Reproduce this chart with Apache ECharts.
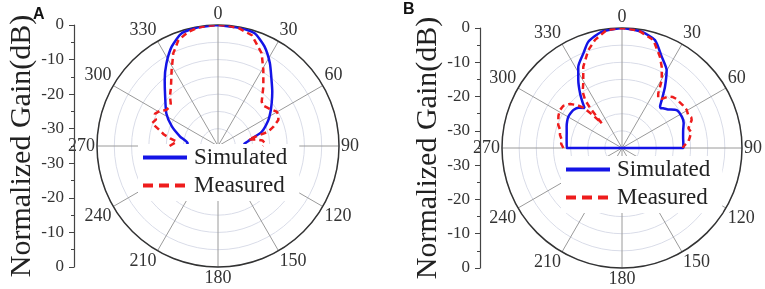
<!DOCTYPE html>
<html>
<head>
<meta charset="utf-8">
<script src="https://cdn.jsdelivr.net/npm/echarts@6/dist/echarts.min.js"></script>
<style>
  html, body { margin: 0; padding: 0; background: #fff; }
  #main { width: 765px; height: 289px; }
</style>
</head>
<body>
<div id="main"></div>
<script>
// panel A, simulated (angle in deg, gain in dB)
var simAngleA = [0, 10, 18, 25, 32, 39, 45, 51, 57, 63, 72, 77, 81, 85, 90,
  95, 130, 180, 230, 265,
  270, 275, 284, 293, 302, 313, 321, 328, 335, 342, 350, 360];
var simGainA = [0, -0.3, -0.7, -3.2, -6.7, -10.4, -12.8, -15.0, -16.9, -18.7, -21.7, -24.6, -26.2, -27.3, -27.6,
  -35, -35, -35, -35, -35,
  -25.5, -26.2, -23.7, -20.5, -17.4, -14.1, -10.5, -6.85, -3.3, -0.75, -0.2, 0];

// panel A, measured
var measAngleA = [270, 272, 276, 279, 282, 286, 289, 293, 297, 301, 305, 309, 312, 316, 321.6, 328.6, 334.3, 339.5, 345, 350, 355,
  360, 365, 370, 377, 385.2, 390.8, 397.4, 404.6, 408, 413.1, 419.7, 423, 426.7, 430.8, 434.1, 436, 438, 440, 443, 447, 450];
var measGainA = [-21, -20.5, -23, -21, -19, -17, -14.8, -15.5, -14.5, -15.3, -16.8, -17, -16.6, -15, -13.1, -9.25, -5.2, -2.3, -1, -0.3, -0.1,
  0, -0.1, -0.4, -1.5, -5.35, -9.4, -13.4, -17, -17.5, -16.8, -15.3, -15.4, -16, -18, -19.9, -24, -26, -24, -22, -21.4, -22];

// panel B, simulated
var simAngleB = [0, 9.6, 17, 23.5, 29.8, 35.1, 39.6, 42.6, 44, 46.1, 50, 55.2, 62.3, 68, 73.6, 80, 85, 90,
  95, 130, 180, 230, 265,
  270, 275, 280, 285, 291.1, 296, 300.2, 304, 308, 313, 317, 319, 322.5, 327.3, 331.7, 337.8, 342.4, 350, 360];
var simGainB = [0, -0.6, -2.1, -5.95, -8.8, -13.2, -16.8, -18.6, -18.8, -18.3, -17.5, -15.6, -15.3, -15.6, -16.4, -16.9, -17.05, -17.1,
  -35, -35, -35, -35, -35,
  -18.9, -18.8, -18.6, -18.3, -17.7, -17.2, -16.9, -16.9, -17.0, -17.8, -19, -17.5, -14.9, -11.4, -8.1, -5.2, -2.5, -0.6, 0];

// panel B, measured
var measAngleB = [270, 274, 277.6, 282, 286.2, 290, 293.7, 297, 301.5, 305.6, 310.2, 313.5, 316, 318.5, 320.5, 321.5, 322.5, 325,
  329.1, 334.5, 341, 346, 352.6,
  360, 368, 376.2, 382.6, 386, 390.3, 393.6, 396.1, 399, 402, 405, 408.1, 412, 415, 419.6, 423, 426, 428.1, 431, 433.5, 437, 440.6, 444, 448.8, 450];
var measGainB = [-17.9, -17.2, -17.3, -16.5, -16.2, -15.2, -14.7, -14.2, -13.8, -13.9, -15.1, -16.8, -18.5, -22, -25.7, -20, -17.3, -15,
  -13.0, -8.75, -4.8, -2.5, -0.3,
  0, -0.4, -2.2, -6.2, -8.6, -12.0, -15.9, -17.1, -16.5, -14.8, -14, -13.6, -13.5, -13.3, -13.1, -13.4, -12.9, -13.1, -14, -14.8, -14.3, -14.9, -15.5, -17.1, -17.2];

var legendNames = ['Simulated', 'Measured'];
var angleTicks = [0, 30, 60, 90, 120, 150, 180, 210, 240, 270, 300, 330];

var serif = 'Liberation Serif';
var blue = '#1414e6';
var red = '#ee1c1c';

function pairs(gain, angle) {
  var out = [];
  for (var i = 0; i < gain.length; i++) {
    out.push([gain[i], angle[i] % 360]);
  }
  return out;
}

function angleAxis(idx) {
  return {
    polarIndex: idx,
    type: 'value',
    min: 0,
    max: 360,
    interval: 30,
    startAngle: 90,
    clockwise: true,
    axisLine: { show: true, lineStyle: { color: '#333', width: 1.5 } },
    axisTick: { show: false },
    axisLabel: {
      margin: 2,
      color: '#333',
      fontFamily: serif,
      fontSize: 18,
      formatter: function (v) { return angleTicks.indexOf(v) >= 0 ? String(v) : ''; }
    },
    splitLine: { show: true, lineStyle: { color: '#9a9a9a', width: 1 } }
  };
}

function radiusAxis(idx) {
  return {
    polarIndex: idx,
    type: 'value',
    min: -35,
    max: 0,
    interval: 5,
    axisLine: { show: false },
    axisTick: { show: false },
    axisLabel: { show: false },
    splitLine: { show: true, lineStyle: { color: '#d9dce8', width: 1 } }
  };
}

function gainAxis(idx) {
  return {
    gridIndex: idx,
    type: 'value',
    min: -35,
    max: 35,
    interval: 10,
    name: 'Normalized Gain(dB)',
    nameLocation: 'middle',
    nameRotate: 90,
    nameGap: 37,
    nameTextStyle: { fontFamily: serif, fontSize: 30, color: '#222' },
    axisLine: { show: true, lineStyle: { color: '#444', width: 1.2 } },
    axisTick: { show: true, length: 5, lineStyle: { color: '#444' } },
    minorTick: { show: true, splitNumber: 2, length: 3, lineStyle: { color: '#444' } },
    splitLine: { show: false },
    axisLabel: {
      margin: 10,
      color: '#333',
      fontFamily: serif,
      fontSize: 17,
      formatter: function (v) { return String(Math.abs(v) - 35); }
    }
  };
}

function legend(left, top) {
  return {
    data: [
      { name: legendNames[0] },
      { name: legendNames[1], lineStyle: { type: [10, 6] } }
    ],
    orient: 'vertical',
    left: left,
    top: top,
    itemWidth: 44,
    itemHeight: 14,
    itemGap: 5,
    padding: [2, 12, 4, 3],
    backgroundColor: '#fff',
    selectedMode: false,
    itemStyle: { opacity: 0 },
    lineStyle: { width: 4 },
    textStyle: { fontFamily: serif, fontSize: 23, color: '#222', padding: [0, 0, 0, 2] }
  };
}

var chart = echarts.init(document.getElementById('main'), null, { renderer: 'canvas' });

chart.setOption({
  animation: false,
  title: [
    { text: 'A', left: 33, top: 7, padding: 0, textStyle: { fontFamily: 'Liberation Sans', fontWeight: 'bold', fontSize: 16, color: '#111' } },
    { text: 'B', left: 403, top: 2, padding: 0, textStyle: { fontFamily: 'Liberation Sans', fontWeight: 'bold', fontSize: 16, color: '#111' } }
  ],
  polar: [
    { center: [218, 146], radius: 121 },
    { center: [622, 148], radius: 120 }
  ],
  angleAxis: [angleAxis(0), angleAxis(1)],
  radiusAxis: [radiusAxis(0), radiusAxis(1)],
  // plain vertical gain axes to the left of each plot
  grid: [
    { left: 74, top: 25, width: 1, height: 242 },
    { left: 480, top: 28, width: 1, height: 240 }
  ],
  xAxis: [
    { gridIndex: 0, type: 'value', show: false },
    { gridIndex: 1, type: 'value', show: false }
  ],
  yAxis: [gainAxis(0), gainAxis(1)],
  legend: [legend(138, 144), legend(561, 156)],
  series: [
    {
      name: 'Simulated', type: 'line', coordinateSystem: 'polar', polarIndex: 0,
      symbol: 'none', z: 3, smooth: 0.2,
      lineStyle: { color: blue, width: 2.5 }, itemStyle: { color: blue },
      data: pairs(simGainA, simAngleA)
    },
    {
      name: 'Measured', type: 'line', coordinateSystem: 'polar', polarIndex: 0,
      symbol: 'none', z: 4,
      lineStyle: { color: red, width: 2.5, type: [6, 4] }, itemStyle: { color: red },
      data: pairs(measGainA, measAngleA)
    },
    {
      name: 'Simulated', type: 'line', coordinateSystem: 'polar', polarIndex: 1,
      symbol: 'none', z: 3, smooth: 0.2,
      lineStyle: { color: blue, width: 2.5 }, itemStyle: { color: blue },
      data: pairs(simGainB, simAngleB)
    },
    {
      name: 'Measured', type: 'line', coordinateSystem: 'polar', polarIndex: 1,
      symbol: 'none', z: 4,
      lineStyle: { color: red, width: 2.5, type: [6, 4] }, itemStyle: { color: red },
      data: pairs(measGainB, measAngleB)
    }
  ]
});
</script>
</body>
</html>
